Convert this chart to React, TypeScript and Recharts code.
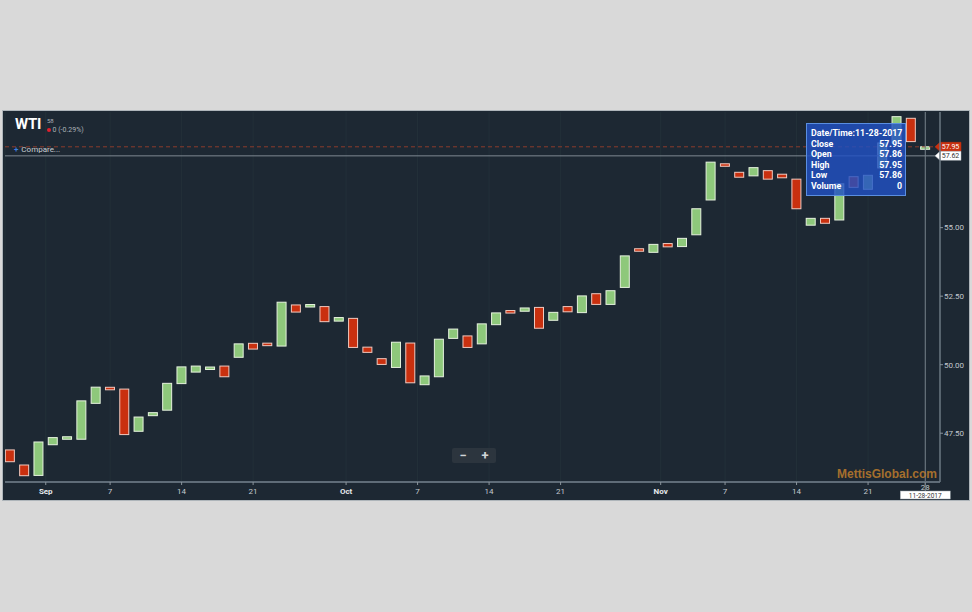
import React from 'react';
import { ComposedChart, Bar, XAxis, YAxis, CartesianGrid, ReferenceLine } from 'recharts';

// Daily WTI candles (trading-day index 0..64), open / close
const opens = [
  46.89, 46.34, 45.96, 47.08, 47.31, 47.28, 48.59, 49.16, 49.11, 47.57,
  48.14, 48.34, 49.31, 49.73, 49.84, 49.95, 50.27, 50.78, 50.78, 50.68,
  52.18, 52.11, 52.12, 51.59, 51.69, 50.64, 50.22, 49.90, 50.79, 49.27,
  49.56, 50.96, 51.05, 50.76, 51.46, 51.96, 51.95, 52.09, 51.62, 52.12,
  51.90, 52.59, 52.20, 52.82, 54.22, 54.10, 54.42, 54.31, 54.74, 56.01,
  57.32, 57.02, 56.89, 57.08, 56.95, 56.77, 55.09, 55.34, 55.28, 56.86,
  56.40, 57.18, 58.09, 58.99, 57.86,
];
const closes = [
  46.46, 45.95, 47.18, 47.34, 47.34, 48.68, 49.18, 49.10, 47.45, 48.09,
  48.25, 49.32, 49.92, 49.95, 49.90, 49.56, 50.76, 50.57, 50.70, 52.28,
  51.92, 52.19, 51.57, 51.72, 50.63, 50.45, 50.01, 50.82, 49.34, 49.59,
  50.93, 51.30, 50.63, 51.49, 51.89, 51.90, 52.07, 51.33, 51.91, 51.93,
  52.51, 52.20, 52.70, 53.97, 54.15, 54.39, 54.30, 54.61, 55.69, 57.39,
  57.25, 56.84, 57.19, 56.77, 56.82, 55.69, 55.34, 55.16, 56.60, 56.47,
  56.91, 58.09, 59.05, 58.14, 57.95,
];
const tickIdx = [2.5, 7, 12, 17, 23.5, 28.5, 33.5, 38.5, 45.5, 50, 55, 60, 64];
const tickLabels = ['Sep', '7', '14', '21', 'Oct', '7', '14', '21', 'Nov', '7', '14', '21', '28'];
const monthLabels = ['Sep', 'Oct', 'Nov'];
const priceTicks = [47.5, 50, 52.5, 55];
const lastPrice = 57.95;
const crossPrice = 57.62;
const lastDate = '11-28-2017';
const lastVolume = 0;
const headerPrice = '58';
const headerChange = '0 (-0.29%)';

const data = opens.map((o, i) => ({
  i,
  open: o,
  close: closes[i],
  body: [Math.min(o, closes[i]), Math.max(o, closes[i])],
}));

const GREEN = '#8ec87b';
const RED = '#c9300f';
const BG = '#1d2833';
const FONT = 'Roboto, "Noto Sans", sans-serif';

const Candle = (props: any) => {
  const { x, y, width, height, payload } = props;
  if (x == null || y == null) return null;
  const up = payload.close >= payload.open;
  let h = Math.abs(height);
  let top = height < 0 ? y + height : y;
  if (h < 2.5) {
    top = top + h / 2 - 1.25;
    h = 2.5;
  }
  return (
    <rect
      x={x + 0.5}
      y={top}
      width={width - 1}
      height={h}
      fill={up ? GREEN : RED}
      stroke={up ? '#e6f2de' : '#f1c9bf'}
      strokeWidth={1}
    />
  );
};

const XTick = (props: any) => {
  const { x, y, payload } = props;
  const k = tickIdx.indexOf(payload.value);
  const label = tickLabels[k] ?? '';
  const isMonth = monthLabels.includes(label);
  const isLast = k === tickIdx.length - 1;
  return (
    <g>
      <text
        x={x}
        y={isLast ? y + 3 : y + 7}
        textAnchor="middle"
        fontSize={8}
        fontFamily={FONT}
        fontWeight={isMonth ? 700 : 400}
        fill={isMonth ? '#e6e9ec' : '#c3c9ce'}
      >
        {label}
      </text>
      {isLast && (
        <g>
          <line x1={x} x2={x} y1={y - 5} y2={y + 4} stroke="#76818b" strokeWidth={1} />
          <rect x={x - 25} y={y + 4} width={50} height={8} fill="#ffffff" stroke="#9aa3aa" strokeWidth={0.5} />
          <text x={x} y={y + 10.5} textAnchor="middle" fontSize={6.5} fontFamily={FONT} fill="#333">
            {lastDate}
          </text>
        </g>
      )}
    </g>
  );
};

const PriceTag = (props: any) => {
  const { viewBox, bg, color, text } = props;
  if (!viewBox) return null;
  const X = viewBox.x + viewBox.width;
  const Y = viewBox.y;
  const pts = `${X - 5},${Y} ${X},${Y - 4.5} ${X + 21},${Y - 4.5} ${X + 21},${Y + 4.5} ${X},${Y + 4.5}`;
  return (
    <g>
      <polygon points={pts} fill={bg} stroke={bg === '#ffffff' ? '#b0b7bd' : bg} strokeWidth={0.5} />
      <text x={X + 10.5} y={Y + 2.5} textAnchor="middle" fontSize={7} fontFamily={FONT} fill={color}>
        {text}
      </text>
    </g>
  );
};

export default function App() {
  const last = data[data.length - 1];
  const hi = Math.max(last.open, last.close);
  const lo = Math.min(last.open, last.close);
  const rows: [string, string][] = [
    ['Close', last.close.toFixed(2)],
    ['Open', last.open.toFixed(2)],
    ['High', hi.toFixed(2)],
    ['Low', lo.toFixed(2)],
    ['Volume', String(lastVolume)],
  ];
  return (
    <div style={{ position: 'absolute', left: 0, top: 0, width: 972, height: 612, background: '#d9d9d9', fontFamily: FONT, overflow: 'hidden' }}>
      <div style={{ position: 'absolute', left: 2, top: 110, width: 966, height: 389, background: BG, border: '1px solid #aeb5ba' }} />
      <div style={{ position: 'absolute', left: 0, top: 0 }}>
        <ComposedChart
          width={972}
          height={612}
          data={data}
          margin={{ top: 112, right: 2, bottom: 110, left: 5 }}
        >
          <CartesianGrid vertical horizontal={false} stroke="#233039" />
          <XAxis
            dataKey="i"
            type="number"
            domain={[-0.35, 65.03]}
            ticks={tickIdx}
            interval={0}
            allowDataOverflow
            height={20}
            axisLine={{ stroke: '#5f6c78', strokeWidth: 2 }}
            tickLine={{ stroke: '#8a949c' }}
            tickSize={3}
            tickMargin={2}
            tick={<XTick />}
          />
          <YAxis
            orientation="right"
            type="number"
            domain={[45.72, 59.22]}
            ticks={priceTicks}
            allowDataOverflow
            width={30}
            axisLine={{ stroke: '#6b7782', strokeWidth: 1.5 }}
            tickLine={{ stroke: '#8a949c' }}
            tickSize={3}
            tickMargin={1}
            tickFormatter={(v: number) => v.toFixed(2)}
            tick={{ fontSize: 8, fill: '#c3c9ce', fontFamily: FONT }}
          />
          <ReferenceLine
            y={lastPrice}
            stroke="#8c3b2c"
            strokeDasharray="4 3"
            label={<PriceTag bg={RED} color="#ffffff" text={lastPrice.toFixed(2)} />}
          />
          <ReferenceLine
            y={crossPrice}
            stroke="#7d8891"
            label={<PriceTag bg="#ffffff" color="#333333" text={crossPrice.toFixed(2)} />}
          />
          <ReferenceLine x={data.length - 1} stroke="#76818b" />
          <Bar dataKey="body" barSize={10} isAnimationActive={false} shape={(p: any) => <Candle {...p} />} />
        </ComposedChart>
      </div>

      {/* header */}
      <div style={{ position: 'absolute', left: 15, top: 115, fontSize: 15, fontWeight: 700, color: '#ffffff', letterSpacing: -0.3 }}>WTI</div>
      <div style={{ position: 'absolute', left: 47, top: 117, fontSize: 6, color: '#aab2b8' }}>{headerPrice}</div>
      <div style={{ position: 'absolute', left: 47, top: 126, fontSize: 7, color: '#aab2b8', display: 'flex', alignItems: 'center' }}>
        <span style={{ display: 'inline-block', width: 4, height: 4, borderRadius: 2, background: '#e0202f', marginRight: 1.5 }} />
        {headerChange}
      </div>
      <div style={{ position: 'absolute', left: 14, top: 145, fontSize: 8, color: '#c9ced2' }}>
        <span style={{ color: '#3f7fe0', fontWeight: 700, marginRight: 3 }}>+</span>Compare...
      </div>

      {/* zoom buttons */}
      <div style={{ position: 'absolute', left: 452, top: 448, width: 44, height: 15, background: '#2c353e', borderRadius: 2, display: 'flex', alignItems: 'center', justifyContent: 'space-around', color: '#d0d4d8', fontSize: 13, fontWeight: 700, lineHeight: '15px' }}>
        <span>−</span>
        <span>+</span>
      </div>

      {/* watermark */}
      <div style={{ position: 'absolute', left: 837, top: 467, fontSize: 12, fontWeight: 700, color: '#a56f2d', fontFamily: 'Arial, "Liberation Sans", sans-serif' }}>MettisGlobal.com</div>

      {/* tooltip */}
      <div style={{ position: 'absolute', left: 806, top: 123, width: 100, height: 73, background: 'rgba(33,80,195,0.82)', border: '1px solid #5a8ee0', color: '#ffffff', fontSize: 8.8, fontWeight: 700, padding: '4px 3px 0 4px', boxSizing: 'border-box', lineHeight: '10.5px', whiteSpace: 'nowrap' }}>
        <div style={{ display: 'flex', justifyContent: 'space-between' }}>
          <span>Date/Time:</span>
          <span>{lastDate}</span>
        </div>
        {rows.map(([k, v]) => (
          <div key={k} style={{ display: 'flex', justifyContent: 'space-between' }}>
            <span>{k}</span>
            <span>{v}</span>
          </div>
        ))}
      </div>
    </div>
  );
}
